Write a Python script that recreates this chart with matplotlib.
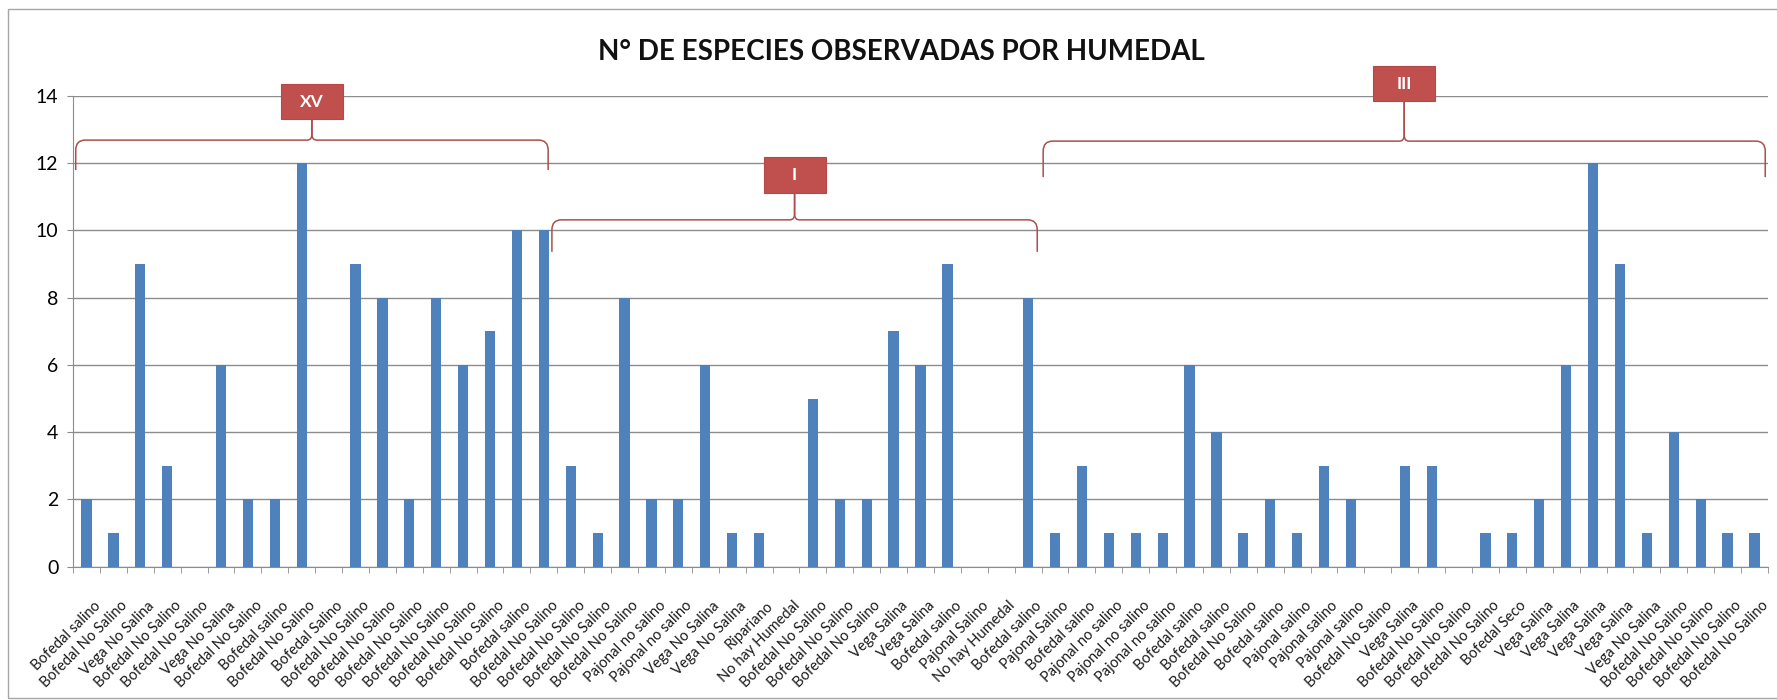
import matplotlib
matplotlib.use('Agg')
import matplotlib.pyplot as plt
import matplotlib.transforms as mtransforms
from matplotlib.patches import Rectangle, PathPatch
from matplotlib.path import Path

plt.rcParams['font.family'] = ['Lato', 'DejaVu Sans']

# data: category labels and number of species per wetland
labels = [
    'Bofedal salino', 'Bofedal No Salino', 'Vega No Salina', 'Bofedal No Salino',
    'Bofedal No Salino', 'Vega No Salina', 'Bofedal No Salino', 'Bofedal salino',
    'Bofedal No Salino', 'Bofedal Salino', 'Bofedal No Salino', 'Bofedal No Salino',
    'Bofedal No Salino', 'Bofedal No Salino', 'Bofedal No Salino', 'Bofedal No Salino',
    'Bofedal salino', 'Bofedal No Salino', 'Bofedal No Salino', 'Bofedal No Salino',
    'Bofedal No Salino', 'Pajonal no salino', 'Pajonal no salino', 'Vega No Salina',
    'Vega No Salina', 'Ripariano', 'No hay Humedal', 'Bofedal No Salino',
    'Bofedal No Salino', 'Bofedal No Salino', 'Vega Salina', 'Vega Salina',
    'Bofedal salino', 'Pajonal Salino', 'No hay Humedal', 'Bofedal salino',
    'Pajonal Salino', 'Bofedal salino', 'Pajonal no salino', 'Pajonal no salino',
    'Pajonal no salino', 'Bofedal salino', 'Bofedal salino', 'Bofedal No Salino',
    'Bofedal salino', 'Pajonal salino', 'Pajonal salino', 'Pajonal salino',
    'Bofedal No Salino', 'Vega Salina', 'Bofedal No Salino', 'Bofedal No Salino',
    'Bofedal No Salino', 'Bofedal Seco', 'Vega Salina', 'Vega Salina',
    'Vega Salina', 'Vega Salina', 'Vega No Salina', 'Bofedal No Salino',
    'Bofedal No Salino', 'Bofedal No Salino', 'Bofedal No Salino',
]
species = [
    2, 1, 9, 3, 0, 6, 2, 2, 12, 0, 9, 8, 2, 8, 6, 7, 10, 10, 3, 1, 8,
    2, 2, 6, 1, 1, 0, 5, 2, 2, 7, 6, 9, 0, 0, 8, 1, 3, 1, 1, 1, 6,
    4, 1, 2, 1, 3, 2, 0, 3, 3, 0, 1, 1, 2, 6, 12, 9, 1, 4, 2, 1, 1,
]
regions = ['XV', 'I', 'III']

# layout for the region braces (x edges in category units, y levels in axis units)
brace_x = [(-0.4, 17.16), (17.3, 35.34), (35.56, 62.4)]
brace_y = [12.68, 10.31, 12.65]      # horizontal part
brace_end = [11.79, 9.36, 11.58]     # ends of the curled tips
box_y = [(13.31, 14.34), (11.1, 12.18), (13.84, 14.88)]

fig = plt.figure(figsize=(17.77, 7.0), dpi=100)
ax = fig.add_axes([0.0411, 0.1903, 0.9538, 0.673])

x = list(range(len(species)))
ax.bar(x, species, width=0.38, color='#4F81BD', zorder=3)

ax.set_xlim(-0.5, len(species) - 0.5)
ax.set_ylim(0, 14)
ax.set_yticks(range(0, 15, 2))
ax.yaxis.grid(True, color='#8C8C8C', lw=1.0, zorder=0)

ax.set_xticks(x)
ax.set_xticks([i - 0.5 for i in range(len(species) + 1)], minor=True)
ax.tick_params(axis='x', which='major', length=0, pad=23)
ax.tick_params(axis='x', which='minor', length=4.5, color='#8C8C8C', direction='out')
ax.tick_params(axis='y', length=4.5, color='#8C8C8C', labelsize=14, pad=6)
ax.set_xticklabels(labels, rotation=45, ha='right', va='top',
                   rotation_mode='anchor', fontsize=10.5, color='#1a1a1a')
# nudge the rotated labels right so their tips sit under the bars
shift = mtransforms.ScaledTranslation(5 / 72, 0, fig.dpi_scale_trans)
for tick in ax.xaxis.get_major_ticks():
    tick.label1.set_transform(tick.label1.get_transform() + shift)

for s in ['top', 'right']:
    ax.spines[s].set_visible(False)
for s in ['left', 'bottom']:
    ax.spines[s].set_color('#8C8C8C')

fig.text(0.507, 0.925, 'N° DE ESPECIES OBSERVADAS POR HUMEDAL',
         ha='center', va='center', fontsize=20, fontweight='bold', color='#111111')

# region braces with labelled boxes
rx, ry = 0.35, 0.3
mx, my = 0.18, 0.18
line_col = '#A9504C'
for name, (x0, x1), yh, ye, (b0, b1) in zip(regions, brace_x, brace_y, brace_end, box_y):
    xm = (x0 + x1) / 2
    for a, sgn in ((x0, 1), (x1, -1)):
        verts = [(a, ye), (a, yh - ry), (a, yh), (a + sgn * rx, yh),
                 (xm - sgn * mx, yh), (xm, yh), (xm, yh + my), (xm, b0)]
        codes = [Path.MOVETO, Path.LINETO, Path.CURVE3, Path.CURVE3,
                 Path.LINETO, Path.CURVE3, Path.CURVE3, Path.LINETO]
        ax.add_patch(PathPatch(Path(verts, codes), fill=False, ec=line_col,
                               lw=1.1, clip_on=False, zorder=4))
    ax.add_patch(Rectangle((xm - 1.15, b0), 2.3, b1 - b0, fc='#C0504D',
                           ec='#B8474A', lw=0.8, clip_on=False, zorder=5))
    ax.text(xm, (b0 + b1) / 2, name, ha='center', va='center', color='white',
            fontsize=12.5, fontweight='bold', zorder=6, clip_on=False)

# chart area border
fig.patches.append(Rectangle((8 / 1777, 2 / 700), 1.2, 1 - 11 / 700,
                             transform=fig.transFigure, fill=False,
                             ec='#A6A6A6', lw=1.0))

fig.savefig('out.png', dpi=100)
